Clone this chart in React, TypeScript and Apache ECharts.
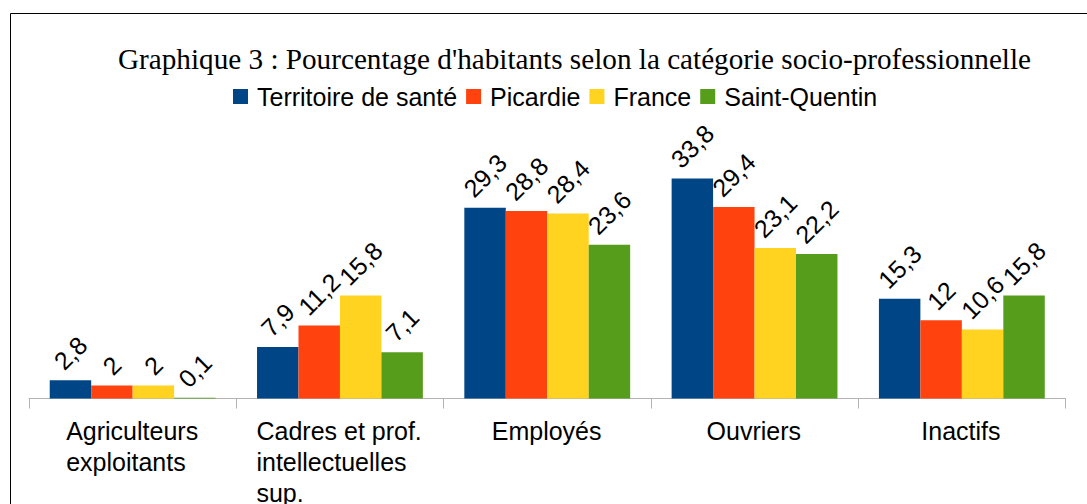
import React, { useEffect, useRef } from "react";
import * as echarts from "echarts";

const titleText = "Graphique 3 : Pourcentage d'habitants selon la catégorie socio-professionnelle";
const categories = [
  "Agriculteurs\nexploitants",
  "Cadres et prof.\nintellectuelles\nsup.",
  "Employés",
  "Ouvriers",
  "Inactifs",
];
const seriesNames = ["Territoire de santé", "Picardie", "France", "Saint-Quentin"];
const territoire = [2.8, 7.9, 29.3, 33.8, 15.3];
const picardie = [2, 11.2, 28.8, 29.4, 12];
const france = [2, 15.8, 28.4, 23.1, 10.6];
const saintQuentin = [0.1, 7.1, 23.6, 22.2, 15.8];
const colors = ["#004586", "#ff420e", "#ffd320", "#579d1c"];

const FONT = "'Liberation Sans', Arial, sans-serif";
const FS = 25;

function fmt(v: number): string {
  return String(v).replace(".", ",");
}

export default function App() {
  const ref = useRef<HTMLDivElement>(null);
  useEffect(() => {
    if (!ref.current) return;
    const chart = echarts.init(ref.current, undefined, { renderer: "svg" });
    const canvas = document.createElement("canvas");
    const ctx = canvas.getContext("2d")!;
    ctx.font = `${FS}px 'Liberation Sans'`;
    const measure = (s: string) => ctx.measureText(s).width;

    const rich: Record<string, any> = {};
    categories.forEach((c, i) => {
      const w = Math.max(...c.split("\n").map(measure));
      rich["c" + i] = {
        width: Math.ceil(w) + 1,
        align: "left",
        fontSize: FS,
        fontFamily: FONT,
        color: "#000",
        lineHeight: 31,
      };
    });

    const allSeries = [territoire, picardie, france, saintQuentin];
    const series = allSeries.map((vals, si) => ({
      type: "bar",
      name: seriesNames[si],
      barGap: "0%",
      barCategoryGap: "20%",
      itemStyle: { color: colors[si] },
      data: vals.map((v) => {
        const w = measure(fmt(v));
        return {
          value: v,
          label: { distance: 9 + (w + 17) / 2.83 },
        };
      }),
      label: {
        show: true,
        position: "top",
        rotate: 45,
        align: "center",
        verticalAlign: "middle",
        fontSize: FS,
        fontFamily: FONT,
        color: "#000",
        formatter: (p: any) => fmt(p.value),
      },
    }));

    chart.setOption({
      animation: false,
      title: {
        text: titleText,
        left: 118,
        top: 44,
        padding: 0,
        textStyle: {
          fontFamily: "'Liberation Serif', 'Times New Roman', serif",
          fontSize: 29.2,
          fontWeight: "normal",
          color: "#000",
        },
      },
      legend: {
        left: 233,
        top: 84,
        padding: 0,
        itemGap: 9,
        itemWidth: 15,
        itemHeight: 15,
        icon: "rect",
        textStyle: {
          fontFamily: FONT,
          fontSize: FS,
          color: "#000",
          padding: [0, 0, 0, 4],
        },
        data: seriesNames,
      },
      graphic: [
        {
          type: "rect",
          shape: { x: 10.5, y: 13.5, width: 1200, height: 700 },
          style: { fill: "none", stroke: "#000", lineWidth: 1 },
          silent: true,
        },
      ],
      grid: {
        left: 29,
        right: 21.5,
        top: 138,
        bottom: 105.5,
        containLabel: false,
        outerBoundsMode: "none",
      },
      xAxis: {
        type: "category",
        data: categories,
        axisLine: { lineStyle: { color: "#b3b3b3", width: 1 } },
        axisTick: { show: true, length: 10, lineStyle: { color: "#b3b3b3" } },
        axisLabel: {
          margin: 17,
          interval: 0,
          fontSize: FS,
          fontFamily: FONT,
          color: "#000",
          lineHeight: 31,
          formatter: (val: string, idx: number) =>
            val
              .split("\n")
              .map((l) => `{c${idx}|${l}}`)
              .join("\n"),
          rich,
        },
      },
      yAxis: {
        type: "value",
        min: 0,
        max: 40,
        show: false,
        splitLine: { show: false },
      },
      series,
    });
    return () => chart.dispose();
  }, []);
  return (
    <div
      ref={ref}
      style={{ position: "fixed", left: 0, top: 0, width: 1087, height: 504, background: "#fff" }}
    />
  );
}
